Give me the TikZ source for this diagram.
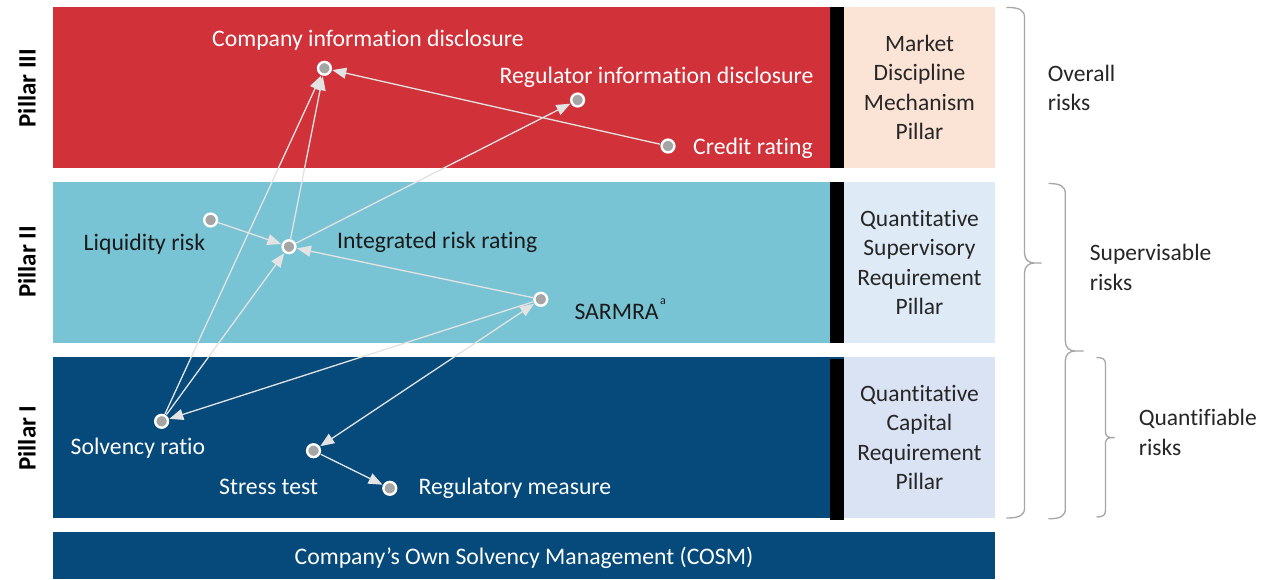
\documentclass[tikz,border=0pt]{standalone}
\usepackage{fontspec}
\setmainfont{Carlito}[Ligatures=NoCommon]
\usetikzlibrary{arrows.meta}
\definecolor{pred}{HTML}{D13138}
\definecolor{pteal}{HTML}{78C4D4}
\definecolor{pblue}{HTML}{054A7A}
\definecolor{boxpeach}{HTML}{FBE3D6}
\definecolor{boxsky}{HTML}{DEEBF7}
\definecolor{boxlav}{HTML}{DAE3F3}
\definecolor{dotgray}{HTML}{A5A5A5}
\definecolor{linegray}{HTML}{E3E3E3}
\definecolor{bracegray}{HTML}{A6A6A6}
\definecolor{darktext}{HTML}{1A1A1A}
\definecolor{boxtext}{HTML}{262626}
\newcommand\riskbrace[7]{% x0 x1 xt ytop ymid ybot r
  \draw[bracegray, line width=1.3pt]
    (#1,#4) .. controls (#2-0.45*#7,#4) and (#2,#4+0.3*#7) .. (#2,#4+#7)
    -- (#2,#5-#7) .. controls (#2,#5-0.3*#7) and (#2+0.45*#7,#5) .. (#2+#7,#5)
    -- (#3,#5) -- (#2+#7,#5)
    .. controls (#2+0.45*#7,#5) and (#2,#5+0.3*#7) .. (#2,#5+#7)
    -- (#2,#6-#7) .. controls (#2,#6-0.3*#7) and (#2-0.45*#7,#6) .. (#1,#6);
}
\begin{document}
\begin{tikzpicture}[x=1pt,y=-1pt,
  >={Triangle[length=14pt,width=11pt]},
  dot/.style={circle, draw=white, line width=2.4pt, fill=dotgray, minimum size=12.8pt, inner sep=0pt},
  lbl/.style={anchor=base west, inner sep=0pt, font=\fontsize{23.7}{29.4}\selectfont},
  wlbl/.style={lbl, text=white},
  dlbl/.style={lbl, text=darktext},
  link/.style={draw=linegray, fill=linegray, line width=1.3pt, ->, shorten >=0.5pt, shorten <=0.5pt},
  dlink/.style={draw=linegray, fill=linegray, line width=1.3pt, <->, shorten >=0.5pt, shorten <=0.5pt},
  pillarbox/.style={minimum width=151pt, minimum height=161pt, inner sep=0pt, align=center, text=boxtext, font=\fontsize{23.5}{29.4}\selectfont},
  pillarname/.style={rotate=90, inner sep=0pt, font=\bfseries\fontsize{25}{25}\selectfont, text=black},
  bracelbl/.style={anchor=base west, inner sep=0pt, align=left, text=boxtext, font=\fontsize{23.5}{29.6}\selectfont}
]
\useasboundingbox (0,0) rectangle (1268,579);
\fill[white] (0,0) rectangle (1268,579);

% bands
\fill[pred] (53,7) rectangle (830,168);
\fill[pteal] (53,182) rectangle (830,343);
\fill[pblue] (53,357) rectangle (844,518);
\fill[black] (830,7) rectangle (844,168);
\fill[black] (830,182) rectangle (844,343);
\fill[black] (830,359) rectangle (844,520);

% pillar boxes
\node[pillarbox, fill=boxpeach] (mdm) at (919.5,87.5) {Market\\Discipline\\Mechanism\\Pillar};
\node[pillarbox, fill=boxsky] (qsr) at (919.5,262.5) {Quantitative\\Supervisory\\Requirement\\Pillar};
\node[pillarbox, fill=boxlav] (qcr) at (919.5,437.5) {Quantitative\\Capital\\Requirement\\Pillar};

% COSM band
\fill[pblue] (53,532) rectangle (995,579);
\node[anchor=base, inner sep=0pt, text=white, font=\fontsize{23.7}{29.4}\selectfont] (cosm) at (524,564.5) {Company’s Own Solvency Management (COSM)};

% pillar names
\node[pillarname] (p3) at (27,88) {Pillar III};
\node[pillarname] (p2) at (27,262) {Pillar II};
\node[pillarname] (p1) at (27,438) {Pillar I};

% dots
\node[dot] (comp) at (324.4,68.3) {};
\node[dot] (reg) at (577.6,100) {};
\node[dot] (credit) at (668,146) {};
\node[dot] (liq) at (210.6,220) {};
\node[dot] (integ) at (289,246.7) {};
\node[dot] (sarmra) at (540.8,299.3) {};
\node[dot] (solv) at (161.6,421.3) {};
\node[dot] (stress) at (313.5,450.7) {};
\node[dot] (regm) at (389.8,488.3) {};

% labels
\node[wlbl] (compl) at (212,46.8) {Company information disclosure};
\node[wlbl] (regl) at (499.5,83) {Regulator information disclosure};
\node[wlbl] (creditl) at (693,154) {Credit rating};
\node[dlbl] (liql) at (83.5,250) {Liquidity risk};
\node[dlbl] (integl) at (337,248) {Integrated risk rating};
\node[dlbl] (sarmral) at (574.3,319) {SARMRA\kern1.5pt\raisebox{15pt}{\fontsize{12}{12}\selectfont a}};
\node[wlbl] (solvl) at (70.5,454.5) {Solvency ratio};
\node[wlbl] (stressl) at (219,494) {Stress test};
\node[wlbl] (regml) at (418.4,494) {Regulatory measure};

% connectors
\draw[link] (credit) -- (comp);
\draw[link] (solv) -- (comp);
\draw[link] (integ) -- (comp);
\draw[link] (solv) -- (integ);
\draw[link] (liq) -- (integ);
\draw[link] (sarmra) -- (integ);
\draw[link] (integ) -- (reg);
\draw[link] (sarmra) -- (solv);
\draw[dlink] (stress) -- (sarmra);
\draw[link] (stress) -- (regm);

% braces
\riskbrace{1006.4}{1024.5}{1041.7}{7.4}{263}{518}{10}
\riskbrace{1048.5}{1065.3}{1083.7}{183.5}{351}{518.8}{10}
\riskbrace{1096.5}{1105.4}{1114.6}{357.5}{437.6}{517}{6}

\node[bracelbl] (overall) at (1047.7,110.6) {Overall\\risks};
\node[bracelbl] (superv) at (1089.7,290.3) {Supervisable\\risks};
\node[bracelbl] (quant) at (1138.6,455.3) {Quantifiable\\risks};
\end{tikzpicture}
\end{document}
